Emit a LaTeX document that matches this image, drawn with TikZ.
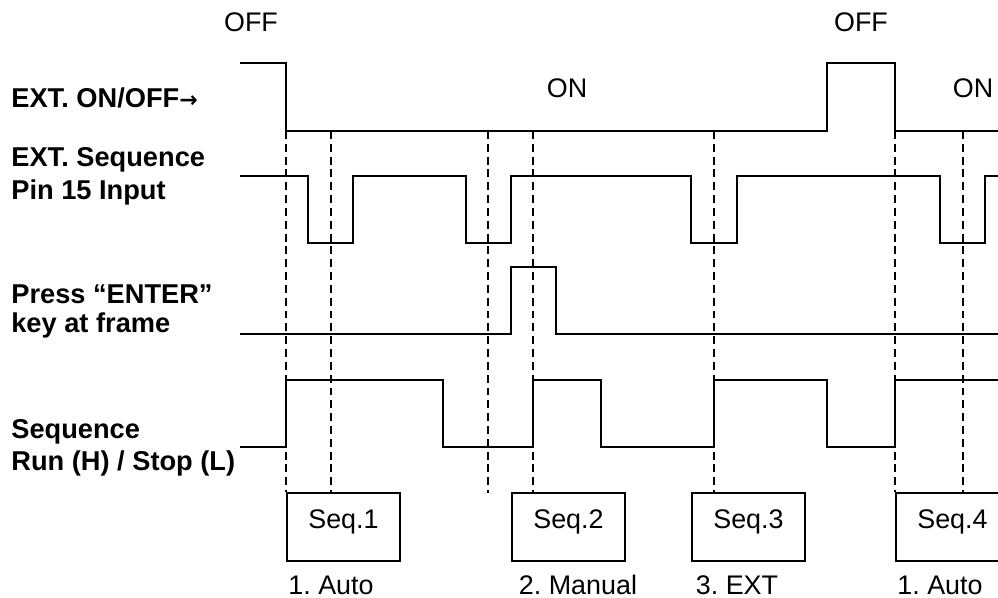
\documentclass[tikz,border=0pt]{standalone}
\usepackage{fontspec}
\setmainfont{Liberation Sans}
\newfontfamily\arrowfont{DejaVu Sans}
\frenchspacing
\tikzset{
  wave/.style={line width=1.1pt, line join=miter},
  guide/.style={line width=1pt, dash pattern=on 4.5pt off 2.8pt},
  seqbox/.style={draw, line width=1.1pt, anchor=north west, inner sep=0pt,
                 minimum width=2.26cm, minimum height=1.36cm,
                 text height=0.44cm, text depth=0.36cm,
                 font=\fontsize{15.3}{18}\selectfont},
  sig/.style={anchor=base west, inner sep=0pt, font=\fontsize{15.5}{18}\selectfont\bfseries},
  lvl/.style={anchor=base, inner sep=0pt, font=\fontsize{15.3}{18}\selectfont},
}

\begin{document}
\begin{tikzpicture}[x=0.02cm, y=-0.02cm]
    \useasboundingbox (0,0) rectangle (998,598);
    % signal names
    \node[sig] (extsw)  at (11,108) {EXT. ON/OFF{\arrowfont\fontsize{12.5}{14}\selectfont →}};
    \node[sig] (pin1)   at (11,167) {EXT. Sequence};
    \node[sig] (pin2)   at (11,199) {Pin 15 Input};
    \node[sig] (enter1) at (11,303) {Press “ENTER”};
    \node[sig] (enter2) at (11,332) {key at frame};
    \node[sig] (run1)   at (11,438) {Sequence};
    \node[sig] (run2)   at (11,470) {Run (H) / Stop (L)};
    % levels of EXT. ON/OFF
    \node[lvl] (off1) at (251,32) {OFF};
    \node[lvl] (off2) at (861,32) {OFF};
    \node[lvl] (on1)  at (567,98) {ON};
    \node[lvl] (on2)  at (973,98) {ON};
    % waveforms
    \draw[wave] (240,63) -| (286,131) -| (827,63) -| (895,131) -- (1000,131);
    \draw[wave] (240,176) -| (308,243) -| (353,176) -| (466,243) -| (511,176)
                -| (691,243) -| (737,176) -| (940,243) -| (985,176) -- (1000,176);
    \draw[wave] (240,334) -| (511,267) -| (556,334) -- (1000,334);
    \draw[wave] (240,447) -| (286,380) -| (443,447) -| (533,380) -| (601,447)
                -| (714,380) -| (827,447) -| (895,380) -- (1000,380);
    % sequences
    \node[seqbox] (seq1) at (286,492) {Seq.1};
    \node[seqbox] (seq2) at (511,492) {Seq.2};
    \node[seqbox] (seq3) at (691,492) {Seq.3};
    \node[seqbox] (seq4) at (895,492) {Seq.4};
    \node[lvl] (mode1) at (331,594) {1. Auto};
    \node[lvl] (mode2) at (578,594) {2. Manual};
    \node[lvl] (mode3) at (737,594) {3. EXT};
    \node[lvl] (mode4) at (940,594) {1. Auto};
    % timing guides
    \coordinate (g3) at (488,493);
    \draw[guide] (286,131) -- (seq1.north west);
    \draw[guide] (331,131) -- (331,131 |- seq1.north);
    \draw[guide] (488,131) -- (g3);
    \draw[guide] (533,131) -- (533,131 |- seq2.north);
    \draw[guide] (714,131) -- (714,131 |- seq3.north);
    \draw[guide] (895,131) -- (seq4.north west);
    \draw[guide] (963,131) -- (963,131 |- seq4.north);
\end{tikzpicture}
\end{document}
